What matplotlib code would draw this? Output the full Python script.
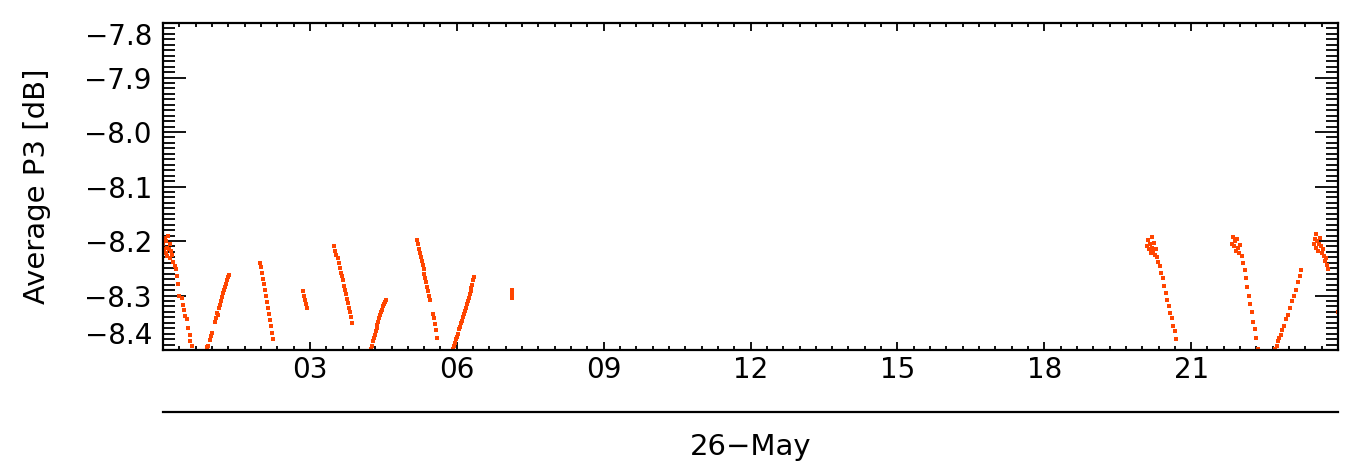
import matplotlib
matplotlib.use('Agg')
import matplotlib.pyplot as plt
from matplotlib.ticker import MultipleLocator, FixedLocator, FuncFormatter

# Horas (UT) y valores, por tramos
h1 = [0.00, 0.02, 0.03, 0.05, 0.06, 0.08, 0.09, 0.11, 0.12, 0.14, 0.15, 0.17, 0.19, 0.21,
      0.24, 0.27, 0.29, 0.31, 0.33, 0.39, 0.41, 0.43, 0.45, 0.48, 0.51, 0.54, 0.56, 0.59]
v1 = [-8.205, -8.215, -8.195, -8.222, -8.200, -8.212, -8.228, -8.190, -8.215, -8.205,
      -8.232, -8.218, -8.226, -8.238, -8.245, -8.252, -8.265, -8.278, -8.300, -8.305,
      -8.318, -8.327, -8.338, -8.343, -8.360, -8.372, -8.384, -8.392]

h2 = [0.86, 0.89, 0.92, 0.95, 0.97, 1.00, 1.06, 1.08, 1.10, 1.12, 1.14, 1.16, 1.18,
      1.20, 1.22, 1.24, 1.26, 1.28, 1.30, 1.32, 1.34]
v2 = [-8.405, -8.395, -8.392, -8.382, -8.375, -8.368, -8.348, -8.342, -8.333, -8.336,
      -8.322, -8.318, -8.310, -8.302, -8.296, -8.290, -8.284, -8.278, -8.272, -8.266, -8.262]

h3 = [1.98, 2.00, 2.02, 2.04, 2.06, 2.08, 2.10, 2.12, 2.14, 2.16, 2.18, 2.20, 2.22, 2.24]
v3 = [-8.240, -8.248, -8.258, -8.270, -8.279, -8.290, -8.300, -8.312, -8.322, -8.334,
      -8.345, -8.356, -8.368, -8.380]

h4 = [2.55, 2.85, 2.87, 2.90, 2.92, 2.94]
v4 = [-8.405, -8.292, -8.300, -8.308, -8.315, -8.322]

h5 = [3.50, 3.52, 3.54, 3.57, 3.59, 3.61, 3.63, 3.65, 3.67, 3.69, 3.71, 3.73, 3.75,
      3.77, 3.79, 3.81, 3.83, 3.85]
v5 = [-8.210, -8.218, -8.226, -8.232, -8.240, -8.250, -8.258, -8.264, -8.272, -8.282,
      -8.290, -8.298, -8.306, -8.314, -8.322, -8.330, -8.340, -8.350]

h6 = [4.22, 4.24, 4.26, 4.28, 4.30, 4.32, 4.34, 4.36, 4.38, 4.40, 4.42, 4.44, 4.46,
      4.48, 4.50, 4.52, 4.54, 4.56]
v6 = [-8.405, -8.398, -8.392, -8.384, -8.378, -8.372, -8.366, -8.360, -8.354, -8.348,
      -8.342, -8.336, -8.330, -8.326, -8.320, -8.316, -8.312, -8.308]

h7 = [5.18, 5.20, 5.22, 5.24, 5.26, 5.28, 5.30, 5.32, 5.34, 5.36, 5.38, 5.40, 5.42,
      5.44, 5.46, 5.52, 5.54, 5.56, 5.58, 5.60]
v7 = [-8.198, -8.205, -8.214, -8.222, -8.230, -8.236, -8.244, -8.252, -8.260, -8.268,
      -8.276, -8.284, -8.292, -8.300, -8.308, -8.334, -8.342, -8.352, -8.364, -8.378]

h8 = [5.90, 5.92, 5.94, 5.96, 5.98, 6.00, 6.02, 6.04, 6.06, 6.08, 6.10, 6.12, 6.14,
      6.16, 6.18, 6.20, 6.22, 6.24, 6.26, 6.28, 6.30, 6.32, 6.34, 6.36]
v8 = [-8.405, -8.398, -8.392, -8.388, -8.380, -8.376, -8.370, -8.362, -8.358, -8.350,
      -8.346, -8.340, -8.334, -8.328, -8.322, -8.316, -8.310, -8.304, -8.298, -8.292,
      -8.286, -8.280, -8.272, -8.266]

h9 = [7.12, 7.12, 7.13]
v9 = [-8.290, -8.298, -8.305]

h10 = [20.10, 20.12, 20.14, 20.15, 20.17, 20.19, 20.20, 20.22, 20.24, 20.26, 20.28,
       20.30, 20.33, 20.36, 20.39, 20.42, 20.45, 20.48, 20.51, 20.54, 20.57, 20.60,
       20.63, 20.66, 20.69]
v10 = [-8.210, -8.198, -8.215, -8.205, -8.222, -8.192, -8.212, -8.218, -8.203, -8.226,
       -8.215, -8.230, -8.238, -8.246, -8.258, -8.268, -8.282, -8.296, -8.308, -8.320,
       -8.332, -8.342, -8.356, -8.366, -8.380]

h11 = [21.30, 21.84, 21.86, 21.88, 21.90, 21.92, 21.94, 21.96, 21.98, 22.00, 22.03,
       22.06, 22.09, 22.12, 22.15, 22.18, 22.21, 22.24, 22.27, 22.30, 22.33, 22.36]
v11 = [-8.405, -8.205, -8.192, -8.210, -8.200, -8.218, -8.196, -8.212, -8.222, -8.208,
       -8.228, -8.240, -8.254, -8.268, -8.284, -8.300, -8.316, -8.330, -8.348, -8.362,
       -8.378, -8.398]

h12 = [22.70, 22.72, 22.75, 22.78, 22.80, 22.83, 22.86, 22.90, 22.94, 22.98, 23.02,
       23.06, 23.10, 23.14, 23.18, 23.22, 23.25]
v12 = [-8.405, -8.398, -8.392, -8.384, -8.378, -8.372, -8.364, -8.356, -8.344, -8.336,
       -8.322, -8.310, -8.300, -8.290, -8.276, -8.264, -8.254]

h13 = [23.50, 23.52, 23.54, 23.56, 23.58, 23.60, 23.62, 23.64, 23.66, 23.68, 23.70,
       23.72, 23.74, 23.76, 23.78, 23.80, 24.00]
v13 = [-8.205, -8.196, -8.212, -8.188, -8.200, -8.218, -8.205, -8.194, -8.210, -8.222,
       -8.214, -8.228, -8.236, -8.232, -8.244, -8.252, -8.330]

horas = h1 + h2 + h3 + h4 + h5 + h6 + h7 + h8 + h9 + h10 + h11 + h12 + h13
valores = v1 + v2 + v3 + v4 + v5 + v6 + v7 + v8 + v9 + v10 + v11 + v12 + v13

xticks = [3, 6, 9, 12, 15, 18, 21]
yticks = [-7.8, -7.9, -8.0, -8.1, -8.2, -8.3, -8.4]

plt.rcParams['font.family'] = ['DejaVu Sans']
plt.rcParams['font.size'] = 20

fig = plt.figure(figsize=(13.51, 4.62), dpi=100)
ax = fig.add_axes([0.1207, 0.2424, 0.8697, 0.7078])
ax.plot(horas, valores, linestyle='none', marker='s', markersize=2.6,
        color='#ff4500', markeredgewidth=0)

ax.set_xlim(0, 24)
ax.set_ylim(-8.4, -7.8)
ax.xaxis.set_major_locator(FixedLocator(xticks))
ax.xaxis.set_minor_locator(MultipleLocator(1 / 3))
ax.xaxis.set_major_formatter(FuncFormatter(lambda x, p: '%02d' % round(x)))
ax.yaxis.set_major_locator(FixedLocator(yticks))
ax.yaxis.set_minor_locator(MultipleLocator(0.01))
ax.yaxis.set_major_formatter(FuncFormatter(lambda y, p: ('%.1f' % y).replace('-', '\u2212')))

ax.tick_params(which='both', direction='in', top=True, right=True, width=1.3, color='black')
ax.tick_params(axis='y', which='major', length=16.5, pad=8)
ax.tick_params(axis='y', which='minor', length=8.5)
ax.tick_params(axis='x', which='major', length=6, pad=4)
ax.tick_params(axis='x', which='minor', length=3)
for s in ax.spines.values():
    s.set_linewidth(1.6)
ax.set_ylabel('Average P3 [dB]', fontsize=21, labelpad=24)

# primera y ultima etiqueta quedan dentro del eje, como en IDL
fig.canvas.draw()
etiquetas = ax.get_yticklabels()
etiquetas[0].set_verticalalignment('top')
etiquetas[-1].set_verticalalignment('bottom')

# eje de la fecha
ax2 = fig.add_axes([0.1207, 1 - 412 / 462, 0.8697, 0.0])
ax2.set_xlim(0, 24)
ax2.set_yticks([])
ax2.set_xticks([])
for lado in ['top', 'left', 'right']:
    ax2.spines[lado].set_visible(False)
ax2.spines['bottom'].set_linewidth(1.6)
ax2.set_xlabel('26\u2212May', fontsize=21, labelpad=15)

plt.savefig('out.png', dpi=100)
